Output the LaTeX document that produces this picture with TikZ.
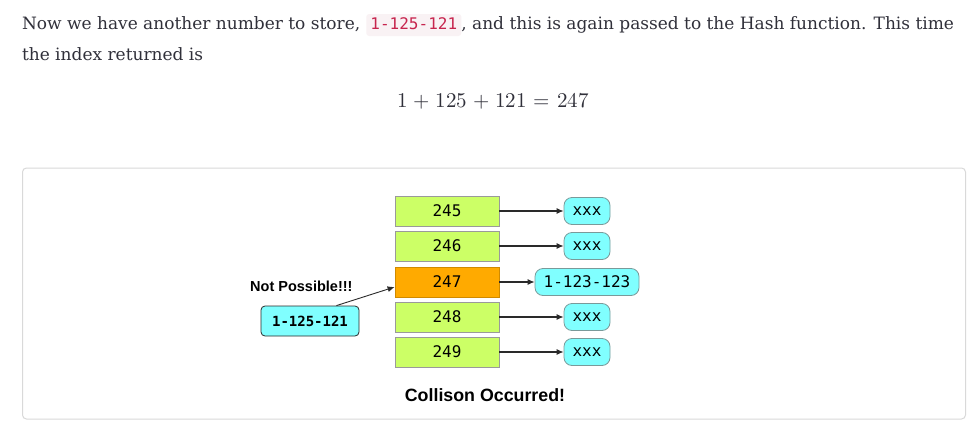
\documentclass[tikz,border=0pt]{standalone}
\usepackage{unicode-math}
\setmathfont{Latin Modern Math}
\setmainfont{DejaVu Serif}
\newfontfamily\monof{DejaVu Sans Mono}
\newfontfamily\arialf{Liberation Sans}
\usetikzlibrary{arrows.meta}
\definecolor{txt}{HTML}{30303A}
\definecolor{codebg}{HTML}{F9F2F4}
\definecolor{codefg}{HTML}{C7254E}
\definecolor{gfill}{HTML}{CCFF66}
\definecolor{gdraw}{HTML}{9A9A9A}
\definecolor{ofill}{HTML}{FFAA00}
\definecolor{odraw}{HTML}{D08A00}
\definecolor{cfill}{HTML}{80FFFF}
\definecolor{cdraw}{HTML}{7A9A9A}
\definecolor{framec}{HTML}{D9D9D9}
\definecolor{arrc}{HTML}{2A2A2A}
\begin{document}
\begin{tikzpicture}[x=1pt,y=-1pt,
  prose/.style={font=\fontsize{17}{20}\selectfont, text=txt, inner sep=0pt, outer sep=0pt, anchor=base west},
  codebox/.style={font=\monof\fontsize{16}{19}\selectfont, text=codefg, fill=codebg, rounded corners=3pt,
     inner xsep=4.2pt, inner ysep=3.5pt, text height=11.5pt, text depth=3.5pt, outer sep=0pt, anchor=base west},
  gbox/.style={draw=gdraw, fill=gfill, line width=0.8pt, minimum width=104pt, minimum height=30pt,
     inner sep=0pt, font=\monof\fontsize{16}{19}\selectfont},
  obox/.style={gbox, draw=odraw, fill=ofill},
  cbox/.style={draw=cdraw, fill=cfill, line width=0.8pt, rounded corners=8pt, minimum width=46pt,
     minimum height=27pt, inner sep=0pt, font=\monof\fontsize{16}{19}\selectfont},
  link/.style={draw=arrc, line width=1.1pt, -{Latex[length=7pt,width=6pt]}},
  boldlabel/.style={font=\arialf\bfseries\fontsize{14.5}{17}\selectfont, inner sep=0pt, anchor=base west}
]
\useasboundingbox (0,0) rectangle (974,431);
\fill[white] (0,0) rectangle (974,431);

% prose
\node[prose] (p1) at (22,29) {Now we have another number to store,};
\node[codebox, xshift=6pt] (code) at (p1.base east) {1-125-121};
\node[prose] (p2) at (code.base east) {, and this is again passed to the Hash function. This time};
\node[prose] (p3) at (22,60) {the index returned is};
\node[font=\fontsize{21}{24}\selectfont, text=txt, inner sep=0pt, anchor=base] (eq) at (493,107)
  {$\medmuskip=5mu \thickmuskip=6mu 1+125+121=247$};

% frame
\draw[framec, line width=1pt, rounded corners=4pt] (22.5,168) rectangle (965.5,419);

% table
\node[gbox] (g245) at (447,211) {245};
\node[gbox] (g246) at (447,246) {246};
\node[obox] (g247) at (447,282) {247};
\node[gbox] (g248) at (447,317) {248};
\node[gbox] (g249) at (447,352) {249};

\node[cbox] (x245) at (587,211) {xxx};
\node[cbox] (x246) at (587,246) {xxx};
\node[cbox, minimum width=104pt] (x247) at (587,282) {1-123-123};
\node[cbox] (x248) at (587,317) {xxx};
\node[cbox] (x249) at (587,352) {xxx};

\draw[link] (g245) -- (x245);
\draw[link] (g246) -- (x246);
\draw[link] (g247) -- (x247);
\draw[link] (g248) -- (x248);
\draw[link] (g249) -- (x249);

\node[draw=arrc, fill=cfill, line width=0.8pt, rounded corners=4pt, minimum width=98pt, minimum height=30pt,
  inner sep=0pt, font=\monof\bfseries\fontsize{14}{17}\selectfont] (n125) at (310,321) {1-125-121};
\node[boldlabel] (np) at (250,291) {Not Possible!!!};
\draw[link, line width=0.9pt] ([xshift=-23pt]n125.north east) -- ([yshift=-5pt]g247.west);

\node[font=\arialf\bfseries\fontsize{17.8}{20}\selectfont, inner sep=0pt, anchor=base] (coll) at (485,401) {Collison Occurred!};
\end{tikzpicture}
\end{document}
